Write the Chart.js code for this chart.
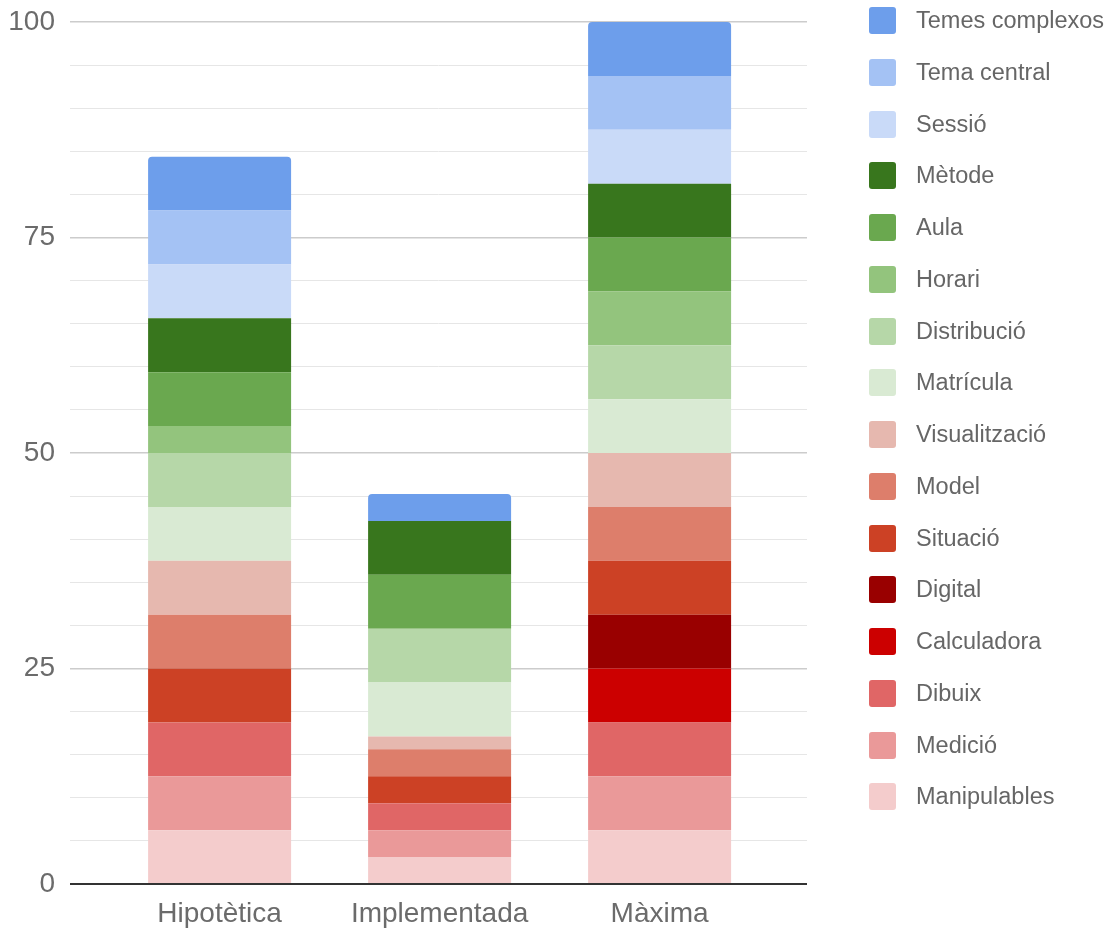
<!DOCTYPE html>
<html>
<head>
<meta charset="utf-8">
<title>Stacked bars</title>
<script src="https://cdn.jsdelivr.net/npm/chart.js@4.4.1/dist/chart.umd.min.js"></script>
<style>
  html, body { margin: 0; padding: 0; background: #fff; }
  .wrap { position: relative; width: 1108px; height: 929px; }
  #legend {
    position: absolute; left: 869px; top: 7px; margin: 0; padding: 0; list-style: none;
    font-family: "Liberation Sans", Arial, sans-serif; font-size: 23.5px; color: #666;
  }
  #legend li { display: flex; align-items: center; height: 27px; margin-bottom: 24.75px; white-space: nowrap; }
  #legend .box { width: 27px; height: 27px; border-radius: 3px; margin-right: 20px; flex: none; }
</style>
</head>
<body>
<div class="wrap">
  <canvas id="chart" width="1108" height="929"></canvas>
  <ul id="legend"></ul>
</div>
<script>
const categories = ['Hipotètica', 'Implementada', 'Màxima'];

// stacked bottom -> top
const seriesNames = ['Manipulables', 'Medició', 'Dibuix', 'Calculadora', 'Digital', 'Situació', 'Model',
  'Visualització', 'Matrícula', 'Distribució', 'Horari', 'Aula', 'Mètode', 'Sessió', 'Tema central', 'Temes complexos'];

const hipotetica   = [6.25, 6.25, 6.25, 0, 0, 6.25, 6.25, 6.25, 6.25, 6.25, 3.125, 6.25, 6.25, 6.25, 6.25, 6.25];
const implementada = [3.125, 3.125, 3.125, 0, 0, 3.125, 3.125, 1.5, 6.25, 6.25, 0, 6.25, 6.25, 0, 0, 3.125];
const maxima       = [6.25, 6.25, 6.25, 6.25, 6.25, 6.25, 6.25, 6.25, 6.25, 6.25, 6.25, 6.25, 6.25, 6.25, 6.25, 6.25];

const yTicks = [0, 25, 50, 75, 100];

const colors = ['#f4cccc', '#ea9999', '#e06666', '#cc0000', '#990000', '#cc4125', '#dd7e6b',
  '#e6b8af', '#d9ead3', '#b6d7a8', '#93c47d', '#6aa84f', '#38761d', '#c9daf8', '#a4c2f4', '#6d9eeb'];

const font = { family: '"Liberation Sans", Arial, sans-serif', size: 28 };

const datasets = seriesNames.map((name, i) => ({
  label: name,
  data: [hipotetica[i], implementada[i], maxima[i]].map((v, j) => ({ x: j, y: v })),
  backgroundColor: colors[i],
  borderWidth: 0,
  borderRadius: i === seriesNames.length - 1 ? { topLeft: 4, topRight: 4, bottomLeft: 0, bottomRight: 0 } : 0,
  borderSkipped: false,
  barPercentage: 0.65,
  categoryPercentage: 1
}));

const chart = new Chart(document.getElementById('chart'), {
  type: 'bar',
  data: { datasets },
  options: {
    responsive: false,
    animation: false,
    layout: { padding: { top: 22, right: 301, left: 0, bottom: 0 } },
    plugins: { legend: { display: false }, tooltip: { enabled: false } },
    scales: {
      x: {
        type: 'linear',
        stacked: true,
        offset: false,
        min: -0.68,
        max: 2.67,
        grid: { display: false, offset: false },
        border: { display: false },
        afterBuildTicks: s => { s.ticks = categories.map((c, i) => ({ value: i })); },
        afterFit: s => { s.height = 45; },
        ticks: {
          callback: v => categories[v],
          color: '#6b6b6b',
          font,
          padding: 5,
          maxRotation: 0
        }
      },
      y: {
        stacked: true,
        min: 0,
        max: 100,
        border: { display: false },
        afterFit: s => { s.width = 70; s.paddingTop = 0; s.paddingBottom = 0; },
        grid: {
          drawTicks: false,
          color: c => c.tick.value === 0 ? '#333' : (yTicks.includes(c.tick.value) ? '#cccccc' : '#e6e6e6'),
          lineWidth: c => c.tick.value === 0 ? 2 : (yTicks.includes(c.tick.value) ? 1.5 : 1)
        },
        ticks: {
          stepSize: 5,
          padding: 15,
          color: '#6b6b6b',
          font,
          callback: v => yTicks.includes(v) ? v : ''
        }
      }
    }
  }
});

// legend list, top series first
const legend = document.getElementById('legend');
chart.data.datasets.slice().reverse().forEach(ds => {
  const li = document.createElement('li');
  const box = document.createElement('span');
  box.className = 'box';
  box.style.background = ds.backgroundColor;
  li.appendChild(box);
  li.appendChild(document.createTextNode(ds.label));
  legend.appendChild(li);
});
</script>
</body>
</html>
